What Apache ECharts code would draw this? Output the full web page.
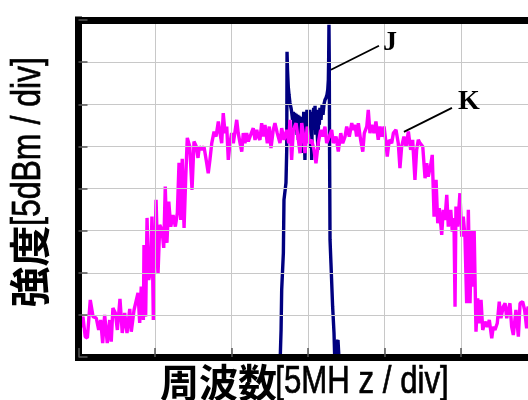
<!DOCTYPE html>
<html><head><meta charset="utf-8">
<script src="https://cdn.jsdelivr.net/npm/echarts/dist/echarts.min.js"></script>
<style>html,body{margin:0;padding:0;background:#fff}#c{width:528px;height:400px}</style>
</head><body><div id="c"></div>
<script>
// Frequency in MHz (5 MHz/div), level in dB (5 dB/div)
const kFreq = [0,0.16,0.29,0.44,0.58,0.77,0.95,1.16,1.32,1.45,1.58,1.71,1.88,2.04,2.14,2.25,2.41,2.54,2.71,2.86,3.02,3.17,3.35,3.45,3.63,3.76,3.89,4.00,4.10,4.24,4.28,4.39,4.48,4.59,4.72,4.80,4.89,4.98,5.07,5.20,5.31,5.46,5.57,5.67,5.78,5.90,6.03,6.18,6.33,6.46,6.57,6.68,6.78,6.90,7.01,7.11,7.27,7.42,7.55,7.70,7.81,7.90,8.05,8.20,8.38,8.48,8.59,8.71,8.86,8.99,9.14,9.25,9.36,9.46,9.58,9.69,9.79,9.90,10.01,10.12,10.34,10.44,10.56,10.67,10.77,10.88,10.99,11.10,11.21,11.42,11.54,11.65,11.75,11.86,11.97,12.08,12.19,12.34,12.47,12.58,12.73,12.84,12.99,13.17,13.28,13.43,13.61,13.74,13.82,13.93,14.04,14.22,14.37,14.48,14.59,14.69,14.80,14.95,15.08,15.24,15.39,15.52,15.67,15.83,15.96,16.11,16.22,16.39,16.55,16.65,16.83,16.98,17.14,17.27,17.42,17.53,17.70,17.86,17.96,18.07,18.18,18.29,18.44,18.58,18.68,18.84,18.94,19.05,19.16,19.31,19.44,19.59,19.71,19.82,19.97,20.10,20.18,20.31,20.47,20.58,20.75,20.90,21.01,21.12,21.27,21.41,21.56,21.71,21.84,21.99,22.10,22.21,22.32,22.50,22.65,22.76,22.86,23.02,23.12,23.24,23.37,23.48,23.58,23.74,23.84,23.95,24.07,24.17,24.33,24.43,24.54,24.61,24.67,24.78,24.93,25.05,25.15,25.26,25.37,25.48,25.59,25.70,25.80,25.86,25.98,26.09,26.20,26.31,26.42,26.57,26.72,26.85,27.01,27.11,27.22,27.37,27.50,27.61,27.76,27.88,27.99,28.09,28.20,28.31,28.42,28.59,28.75,28.86,29.03,29.16,29.29,29.38,29.71,30.00];
const kLevel = [4.16,3.56,4.79,2.41,2.26,6.77,4.79,4.63,3.21,4.39,1.66,4.99,1.66,4.39,1.82,5.82,5.23,3.21,6.89,2.85,5.23,2.85,5.70,3.00,5.58,5.58,7.60,4.04,8.35,4.39,13.30,4.79,16.51,9.14,10.33,16.66,4.39,4.39,18.65,9.98,15.68,15.08,12.95,20.23,13.54,18.44,15.48,16.86,15.48,17.10,23.04,16.27,23.52,15.32,21.41,26.01,24.98,19.83,25.57,24.98,23.63,24.98,24.58,24.98,23.00,21.82,23.40,25.38,26.76,26.16,27.95,26.57,25.38,28.94,26.57,27.35,23.40,25.38,26.57,25.38,28.15,26.57,25.38,24.38,26.57,25.38,26.57,25.57,26.16,27.16,25.77,26.96,26.16,25.77,27.76,26.16,27.55,25.38,27.35,24.79,26.96,27.76,26.57,25.38,27.16,25.77,26.96,25.38,28.15,23.40,26.96,27.76,25.77,24.19,27.76,26.57,24.19,27.35,25.38,25.77,24.58,23.00,25.38,26.96,26.16,27.35,25.38,26.16,26.96,25.38,26.16,24.38,26.57,25.38,26.16,27.35,26.16,27.76,26.96,27.55,26.16,27.76,25.77,24.38,26.57,27.35,29.33,26.57,27.55,26.57,27.95,25.77,27.35,26.16,27.35,25.38,23.79,25.77,25.38,26.57,26.96,25.38,22.41,24.98,26.16,24.98,26.76,24.58,25.77,21.02,24.58,25.77,25.38,24.98,21.22,23.00,21.41,22.80,23.99,16.66,21.02,15.88,17.66,14.49,17.46,16.27,19.24,15.48,17.46,14.88,16.51,5.97,17.85,15.48,19.44,14.29,16.66,14.29,6.38,17.46,6.38,15.08,8.35,15.08,3.00,6.97,4.00,6.77,3.21,4.19,3.60,4.39,2.22,3.60,3.21,4.00,6.57,4.60,5.97,6.38,4.60,5.58,6.38,3.60,2.61,5.58,2.41,6.38,6.57,5.58,3.41,5.97,4.99,5.58];

const jFreq = [13.17,13.24,13.28,13.39,13.43,13.56,13.61,13.63,13.66,13.71,13.76,13.82,13.89,13.93,13.99,14.04,14.08,14.13,14.18,14.22,14.29,14.33,14.37,14.41,14.48,14.52,14.59,14.63,14.67,14.72,14.76,14.80,14.85,14.89,14.93,14.98,15.02,15.07,15.11,15.15,15.20,15.24,15.28,15.33,15.37,15.41,15.46,15.50,15.54,15.59,15.65,15.70,15.74,15.78,15.85,15.92,15.98,16.05,16.11,16.18,16.24,16.29,16.33,16.35,16.37,16.39,16.41,16.44,16.50,16.61,16.70,16.76,16.83,16.96,17.05];
const jLevel = [-1,3.21,7.96,12.35,18.65,20.67,24.58,36.22,34.09,32.10,31.12,30.17,29.57,29.13,28.15,29.10,27.20,28.98,26.96,28.86,26.37,28.74,25.77,28.62,27.20,28.50,24.23,28.38,26.37,29.10,26.96,23.40,28.74,26.72,29.33,25.77,28.98,27.20,29.33,24.82,29.10,23.40,28.74,26.96,29.57,27.55,29.81,26.37,29.33,27.20,24.58,29.33,27.55,29.57,28.15,29.93,28.74,30.05,30.52,30.76,31.12,31.71,32.90,35.27,39.43,35.27,24.58,13.90,11.16,5.97,2.85,-1,1.43,2.02,-1];

const xTicks = [0, 30, 5];
const yTicks = [0, 40, 5];

// annotation anchors (data units)
const annJ = {label:'J', text:[20.36,37.29], from:[16.50,34.09], to:[19.64,36.94]};
const annK = {label:'K', text:[25.52,30.29], from:[21.27,26.72], to:[24.41,29.57]};

const zip = (a,b) => a.map((v,i)=>[v,b[i]]);

const frameLine = {show:true, lineStyle:{color:'#000', width:7, cap:'square'}};
const tick = {show:true, inside:true, length:9, lineStyle:{color:'#555', width:1.5}};
const split = {show:true, lineStyle:{color:'#c8c8c8', width:1}};

const chart = echarts.init(document.getElementById('c'), null, {renderer:'canvas'});
const option = {
  animation:false,
  backgroundColor:'#fff',
  grid:{left:78.5, right:-9.5, top:20, bottom:43, show:false, outerBoundsMode:'none', containLabel:false},
  xAxis:[
    {type:'value', position:'bottom', min:xTicks[0], max:xTicks[1], interval:xTicks[2],
      axisLine:frameLine, axisLabel:{show:false}, axisTick:tick, splitLine:split, z:5},
    {type:'value', position:'top', min:xTicks[0], max:xTicks[1], interval:xTicks[2],
      axisLine:frameLine, axisLabel:{show:false}, axisTick:{show:false}, splitLine:{show:false}, z:5}
  ],
  yAxis:{type:'value', min:yTicks[0], max:yTicks[1], interval:yTicks[2],
    axisLine:frameLine, axisLabel:{show:false}, axisTick:tick, splitLine:split, z:5},
  series:[
    {name:'J', type:'line', data:zip(jFreq,jLevel), showSymbol:false, clip:true, z:2,
      lineStyle:{color:'#000080', width:3.4}, itemStyle:{color:'#000080'}},
    {name:'K', type:'line', data:zip(kFreq,kLevel), showSymbol:false, clip:true, z:3,
      lineStyle:{color:'#ff00ff', width:3.4}, itemStyle:{color:'#ff00ff'}}
  ]
};
chart.setOption(option);

const px = p => chart.convertToPixel({xAxisIndex:0, yAxisIndex:0}, p);
const graphics = [];
[annJ, annK].forEach(a=>{
  const f = px(a.from), t = px(a.to), c = px(a.text);
  graphics.push({type:'line', shape:{x1:f[0], y1:f[1], x2:t[0], y2:t[1]}, style:{stroke:'#000', lineWidth:1.8}, z:100});
  graphics.push({type:'text', x:c[0], y:c[1], z:100, style:{text:a.label, font:'bold 28px "Liberation Serif", "Times New Roman", serif', fill:'#000', align:'center', verticalAlign:'middle'}});
});
const cjk = '"Noto Sans CJK JP", "Noto Sans CJK SC", sans-serif';
const lat = '"Liberation Sans", Arial, sans-serif';
// y-axis title
graphics.push({type:'text', x:29, y:266.5, rotation:Math.PI/2, z:100, style:{
  text:'強度', font:'bold 41px ' + cjk, fill:'#000', align:'center', verticalAlign:'middle'}});
graphics.push({type:'text', x:29, y:141.5, rotation:Math.PI/2, scaleX:0.78, z:100, style:{
  text:'[5dBm / div]', font:'41px ' + lat, fill:'#000', stroke:'#000', lineWidth:0.7, align:'center', verticalAlign:'middle'}});
// x-axis title
graphics.push({type:'text', x:218.5, y:382, z:100, style:{
  text:'周波数', font:'bold 39px ' + cjk, fill:'#000', align:'center', verticalAlign:'middle'}});
graphics.push({type:'text', x:362, y:382, scaleX:0.8, z:100, style:{
  text:'[5MH z / div]', font:'39px ' + lat, fill:'#000', stroke:'#000', lineWidth:0.7, align:'center', verticalAlign:'middle'}});
chart.setOption({graphic:graphics});
</script>
</body></html>
